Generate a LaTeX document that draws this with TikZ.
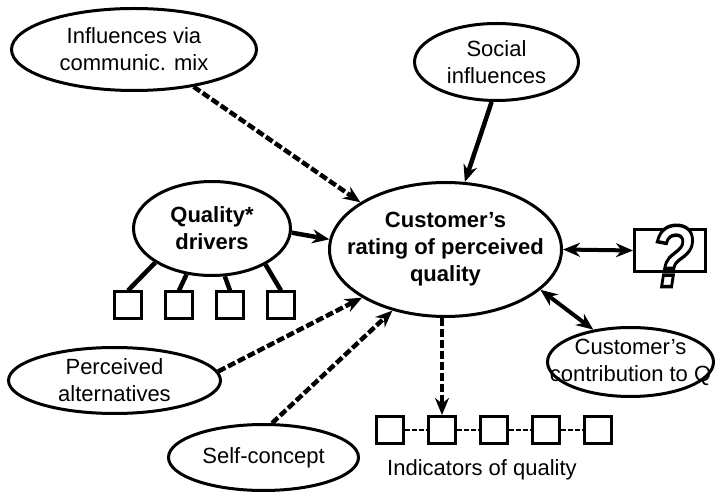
\documentclass[tikz,border=0pt]{standalone}
\usepackage{fontspec}
\setmainfont{Liberation Sans}
\usetikzlibrary{shapes.geometric,arrows.meta}

% outlined glyph: white fill, black stroke
\newcommand{\hollowtext}[1]{{\color{white}\special{pdf:literal direct 2 Tr 3.5 w 0 G 1 J}#1\special{pdf:literal direct 0 Tr}}}

\tikzset{
  bubble/.style={draw, ellipse, line width=3pt, inner sep=0pt},
  txt/.style={align=center, inner sep=0pt, font=\fontsize{22}{27}\selectfont},
  btxt/.style={txt, font=\fontsize{22}{27}\selectfont\bfseries},
  box/.style={draw, line width=3pt, minimum size=27pt, inner sep=0pt},
  link/.style={line width=4.5pt, -{Stealth[length=17pt,width=14pt]}},
  dlink/.style={link, dash pattern=on 8pt off 3pt},
  both/.style={line width=4pt, {Stealth[length=17pt,width=14pt]}-{Stealth[length=17pt,width=14pt]}},
  chain/.style={line width=2pt, dash pattern=on 5pt off 2pt},
}

\begin{document}
\begin{tikzpicture}[x=1pt,y=-1pt]
    \useasboundingbox (0,0) rectangle (716,494);

    %% ellipses
    \node[bubble, minimum width=245, minimum height=82] (commix) at (134,49.5) {};
    \node[bubble, minimum width=164, minimum height=77] (social) at (496.5,62) {};
    \node[bubble, minimum width=157, minimum height=94] (drivers) at (212,228.5) {};
    \node[bubble, minimum width=232, minimum height=134] (rating) at (445.5,249.5) {};
    \node[bubble, minimum width=166, minimum height=69] (contrib) at (630.5,362) {};
    \node[bubble, minimum width=212, minimum height=66] (altern) at (114.5,380.5) {};
    \node[bubble, minimum width=190, minimum height=66] (selfcon) at (263.5,457.5) {};

    %% texts
    \node[txt] (commix-t) at (commix) {Influences via\\communic. mix};
    \node[txt] (social-t) at (social) {Social\\influences};
    \node[btxt] (drivers-t) at (drivers) {Quality*\\drivers};
    \node[btxt] (rating-t) at (rating) {Customer's\\rating of perceived\\quality};
    \node[txt] (contrib-t) at (contrib) {Customer's\\contribution to Q};
    \node[txt] (altern-t) at (altern) {Perceived\\alternatives};
    \node[txt] (selfcon-t) at (selfcon) {Self-concept};

    %% squares under the drivers
    \foreach \i/\x in {1/128,2/179,3/230,4/281}
        \node[box] (q\i) at (\x,305.5) {};
    \foreach \i/\a in {1/211,2/241,3/285,4/326}
        \draw[line width=4.5pt] (drivers.\a) -- (q\i.north);

    %% indicators
    \foreach \i/\x in {1/390,2/442,3/494,4/546,5/598}
        \node[box] (i\i) at (\x,430) {};
    \foreach \i/\j in {1/2,2/3,3/4,4/5}
        \draw[chain] (i\i.east) -- (i\j.west);
    \node[txt] (ind-t) at (482,470) {Indicators of quality};

    %% question box
    \node[box, minimum width=71, minimum height=42] (what) at (670,250.5) {};
    \node[inner sep=0pt] (what-q) at (672.5,256) {\scalebox{0.8}[1]{\fontsize{88}{88}\selectfont\bfseries\itshape
        \hollowtext{?}}};

    %% arrows
    \draw[dlink] (commix.328) -- (rating.151);
    \draw[link] (social.263) -- (rating.74);
    \draw[link] (drivers.357) -- (rating.175);
    \draw[both] (rating.east) -- (what.west);
    \draw[both] (rating.337) -- (contrib.139);
    \draw[dlink] (rating.south -| i2.north) -- (i2.north);
    \draw[dlink] (altern.5) -- (rating.210);
    \draw[dlink] (selfcon.76) -- (rating.229);
\end{tikzpicture}
\end{document}
